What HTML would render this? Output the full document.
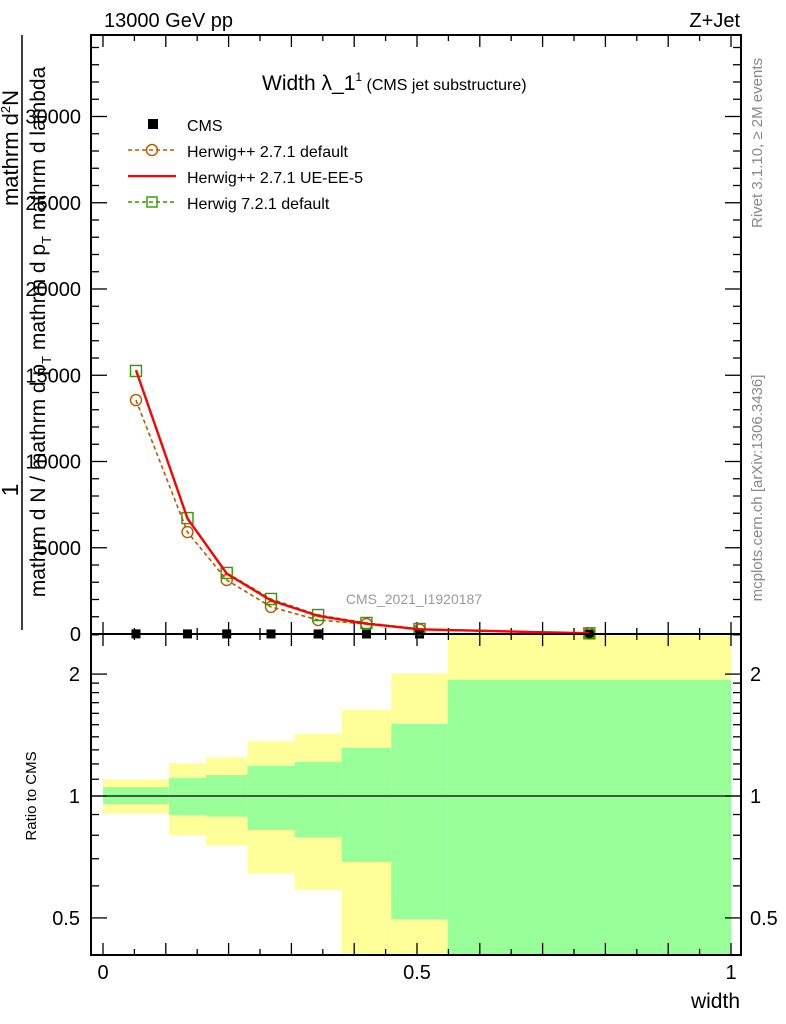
<!DOCTYPE html>
<html><head><meta charset="utf-8"><style>
body{margin:0;background:#fff;}
svg{display:block;font-family:"Liberation Sans",sans-serif;}
</style></head><body>
<svg id="chart" width="786" height="1024" viewBox="0 0 786 1024" xmlns="http://www.w3.org/2000/svg">
<g id="bands"></g>
<g id="ticks"></g>
<g id="series"></g>
<rect x="91" y="35" width="650" height="599" fill="none" stroke="#000" stroke-width="2"/>
<rect x="91" y="634" width="650" height="321" fill="none" stroke="#000" stroke-width="2"/>
<text x="104" y="27" font-size="20">13000 GeV pp</text>
<text x="740" y="27" font-size="20" text-anchor="end">Z+Jet</text>
<text x="262" y="90" font-size="21">Width λ_1<tspan font-size="12" dy="-9">1</tspan><tspan font-size="16" dy="9"> (CMS jet substructure)</tspan></text>
<text x="414" y="604" font-size="14" fill="#999" text-anchor="middle">CMS_2021_I1920187</text>
<text transform="translate(762,143) rotate(-90)" font-size="15" fill="#888" text-anchor="middle">Rivet 3.1.10, ≥ 2M events</text>
<text transform="translate(762,488) rotate(-90)" font-size="15" fill="#888" text-anchor="middle">mcplots.cern.ch [arXiv:1306.3436]</text>
<g>
<line x1="22" y1="35" x2="22" y2="630" stroke="#000" stroke-width="1.5"/>
<text transform="translate(18,490) rotate(-90)" font-size="23" text-anchor="middle">1</text>
<text transform="translate(18,148) rotate(-90)" font-size="22" text-anchor="middle">mathrm d<tspan font-size="13" dy="-8">2</tspan><tspan dy="8">N</tspan></text>
<text transform="translate(45,332) rotate(-90)" font-size="21" text-anchor="middle">mathrm d N / mathrm d p<tspan font-size="13" dy="6">T</tspan><tspan dy="-6"> mathrm d p</tspan><tspan font-size="13" dy="6">T</tspan><tspan dy="-6"> mathrm d lambda</tspan></text>
</g>
<text transform="translate(36,796) rotate(-90)" font-size="15" text-anchor="middle">Ratio to CMS</text>
<text x="740" y="1008" font-size="21" text-anchor="end">width</text>
<g>
<g><rect x="148" y="119" width="10" height="10" fill="#000"/><text x="187" y="131" font-size="16">CMS</text></g>
<g><line x1="128" y1="150" x2="176" y2="150" stroke="#b35900" stroke-width="1.5" stroke-dasharray="4,3"/><circle cx="152" cy="150" r="5.5" fill="none" stroke="#b35900" stroke-width="1.4"/><text x="187" y="157" font-size="16">Herwig++ 2.7.1 default</text></g>
<g><line x1="128" y1="176" x2="176" y2="176" stroke="#f00" stroke-width="2.2"/><text x="187" y="183" font-size="16">Herwig++ 2.7.1 UE-EE-5</text></g>
<g><line x1="128" y1="202" x2="176" y2="202" stroke="#2e9900" stroke-width="1.5" stroke-dasharray="4,3"/><rect x="147" y="197" width="10" height="10" fill="none" stroke="#2e9900" stroke-width="1.4"/><text x="187" y="209" font-size="16">Herwig 7.2.1 default</text></g>
</g>
</svg>
<script>
const binEdges=[0,0.105,0.164,0.230,0.305,0.380,0.459,0.549,1.0];
const cmsValues=[8,5,4,3,2,1,0.5,0.1];
const herwigppDefault=[13560,5910,3130,1570,810,580,260,30];
const herwigppUEEE5=[15300,6700,3500,1950,1050,600,270,40];
const herwig7Default=[15250,6720,3540,2030,1100,640,290,40];
const greenUp=[1.052,1.108,1.127,1.186,1.213,1.314,1.506,1.933];
const greenDown=[0.955,0.898,0.890,0.824,0.792,0.687,0.497,0.3];
const yellowUp=[1.101,1.206,1.248,1.367,1.423,1.630,2.01,3];
const yellowDown=[0.903,0.801,0.757,0.645,0.586,0.3,0.3,0.3];
const mainTickLabels=["0","5000","10000","15000","20000","25000","30000"];
const ratioTickLabels=["0.5","1","2"];
const xTickLabels=["0","0.5","1"];

const NS="http://www.w3.org/2000/svg";
const X=v=>103+628*v;
const Y=v=>634-v*0.01725;
const R=r=>Math.min(955,Math.max(634,796-405*Math.log10(r)));
function mk(tag,attrs,parent){const e=document.createElementNS(NS,tag);for(const k in attrs)e.setAttribute(k,attrs[k]);parent.appendChild(e);return e;}
const bands=document.getElementById('bands'),ticks=document.getElementById('ticks'),series=document.getElementById('series');

for(let i=0;i<binEdges.length-1;i++){
  const x0=X(binEdges[i]),x1=X(binEdges[i+1]);
  const y=mk('rect',{x:x0,y:R(yellowUp[i]),width:x1-x0,height:R(yellowDown[i])-R(yellowUp[i]),fill:'#ffff99'},bands);
  
  
  const g=mk('rect',{x:x0,y:R(greenUp[i]),width:x1-x0,height:R(greenDown[i])-R(greenUp[i]),fill:'#99ff99'},bands);
  
  
}
const one=mk('line',{x1:91,x2:741,y1:R(1),y2:R(1),stroke:'#000','stroke-width':1.3},bands);



for(let k=0;k<=20;k++){
  const v=k*0.05,x=X(v),len=(k%2===0)?12:6;
  for(const [yb,dir] of [[634,-1],[955,-1],[634,1],[35,1]]){
    mk('line',{x1:x,x2:x,y1:yb,y2:yb+dir*len,stroke:'#000','stroke-width':1.3},ticks);
  }
}
xTickLabels.forEach(t=>{
  const e=mk('text',{x:X(parseFloat(t)),y:979,'font-size':20,'text-anchor':'middle'},ticks);
  e.textContent=t;
  
  
});
for(let v=0;v<=34000;v+=1000){
  const y=Y(v),len=(v%5000===0)?16:8;
  mk('line',{x1:91,x2:91+len,y1:y,y2:y,stroke:'#000','stroke-width':1.3},ticks);
  mk('line',{x1:741,x2:741-len,y1:y,y2:y,stroke:'#000','stroke-width':1.3},ticks);
}
mainTickLabels.forEach(t=>{
  const e=mk('text',{x:81,y:Y(parseFloat(t))+7,'font-size':20,'text-anchor':'end'},ticks);
  e.textContent=t;
  
  
});
const rt=[0.5,0.6,0.7,0.8,0.9,1,1.1,1.2,1.3,1.4,1.5,1.6,1.7,1.8,1.9,2,2.5];
rt.forEach(r=>{
  const y=R(r),len=(r===0.5||r===1||r===2)?16:8;
  mk('line',{x1:91,x2:91+len,y1:y,y2:y,stroke:'#000','stroke-width':1.3},ticks);
  mk('line',{x1:741,x2:741-len,y1:y,y2:y,stroke:'#000','stroke-width':1.3},ticks);
});
ratioTickLabels.forEach(t=>{
  const y=R(parseFloat(t))+7;
  const a=mk('text',{x:80,y:y,'font-size':20,'text-anchor':'end'},ticks);
  a.textContent=t;
  
  
  const b=mk('text',{x:750,y:y,'font-size':20},ticks);
  b.textContent=t;
  
  
});

const mids=binEdges.slice(0,-1).map((e,i)=>(e+binEdges[i+1])/2);
function line(vals,color,w,dash,name){
  const pts=vals.map((v,i)=>X(mids[i])+','+Y(v)).join(' ');
  const p=mk('polyline',{points:pts,fill:'none',stroke:color,'stroke-width':w},series);
  if(dash)p.setAttribute('stroke-dasharray',dash);
  
  
}
cmsValues.forEach((v,i)=>{
  const c=mk('rect',{x:X(mids[i])-4.5,y:Y(v)-4.5,width:9,height:9,fill:'#000'},series);
  
  
});
line(herwigppDefault,'#b35900',1.6,'4,3','herwigpp-default-line');
herwigppDefault.forEach((v,i)=>{
  const c=mk('circle',{cx:X(mids[i]),cy:Y(v),r:5.5,fill:'none',stroke:'#b35900','stroke-width':1.4},series);
  
  
});
line(herwig7Default,'#2e9900',1.6,'4,3','herwig7-line');
herwig7Default.forEach((v,i)=>{
  const c=mk('rect',{x:X(mids[i])-5.5,y:Y(v)-5.5,width:11,height:11,fill:'none',stroke:'#2e9900','stroke-width':1.4},series);
  
  
});
line(herwigppUEEE5,'#f00',2.4,null,'herwigpp-ueee5-line');
</script>
</body></html>
